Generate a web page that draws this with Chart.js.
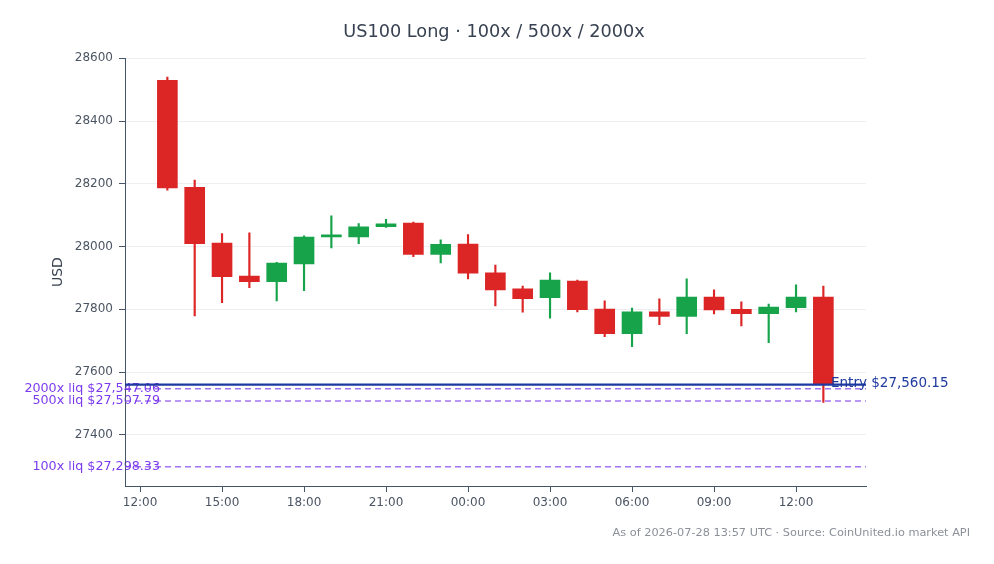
<!DOCTYPE html>
<html><head><meta charset="utf-8">
<script src="https://cdn.jsdelivr.net/npm/chart.js@4.4.1/dist/chart.umd.min.js"></script>
<style>html,body{margin:0;padding:0;background:#fff}#wrap{width:994px;height:564px}</style>
</head><body><div id="wrap"><canvas id="c" width="994" height="564"></canvas></div>
<script>
// hours after 12:00 on day one (candle at 13:00 ... 13:00 next day)
const hours = [1,2,3,4,5,6,7,8,9,10,11,12,13,14,15,16,17,18,19,20,21,22,23,24,25];
const opens  = [28530,28189,28011,27906,27888,27945,28031,28031,28063,28075,27975,28008,27916,27865,27837,27890,27801,27722,27792,27777,27839,27800,27786,27805,27839];
const highs  = [28540,28212,28041,28044,27950,28034,28098,28073,28087,28078,28021,28038,27941,27874,27916,27893,27827,27804,27833,27897,27862,27824,27817,27878,27874];
const lows   = [28180,27779,27821,27869,27827,27859,27996,28009,28061,27968,27948,27897,27811,27791,27772,27792,27713,27681,27751,27722,27785,27747,27694,27792,27503];
const closes = [28187,28009,27904,27888,27947,28030,28034,28063,28072,27975,28007,27915,27862,27834,27893,27799,27722,27792,27777,27839,27798,27786,27807,27839,27560.15];

const levelNames  = ['Entry','2000x liq','500x liq','100x liq'];
const levelPrices = [27560.15, 27547.06, 27507.79, 27298.33];

const xTickValues = [0,3,6,9,12,15,18,21,24];
const xTickLabels = ['12:00','15:00','18:00','21:00','00:00','03:00','06:00','09:00','12:00'];
const yTickValues = [27400,27600,27800,28000,28200,28400,28600];

const titleText  = 'US100 Long \u00b7 100x / 500x / 2000x';
const footerText = 'As of 2026-07-28 13:57 UTC \u00b7 Source: CoinUnited.io market API';

const X_MIN = -0.55, X_MAX = 26.56, Y_MIN = 27237, Y_MAX = 28600;
const UP = '#16a34a', DOWN = '#dc2626';
const ENTRY_COLOR = '#1e3a9f', LIQ_LINE = 'rgba(124,58,237,0.7)', LIQ_TEXT = '#7c3aed';

Chart.defaults.font.family = '"DejaVu Sans", sans-serif';

const candleColors = hours.map((h,i) => closes[i] >= opens[i] ? UP : DOWN);
const fmt = v => '$' + v.toLocaleString('en-US',{minimumFractionDigits:2, maximumFractionDigits:2});

const levelDatasets = levelPrices.map((p,i) => ({
  type: 'line',
  label: levelNames[i],
  data: [{x: X_MIN, y: p}, {x: X_MAX, y: p}],
  borderColor: i === 0 ? ENTRY_COLOR : LIQ_LINE,
  borderWidth: i === 0 ? 2.2 : 1.5,
  borderDash: i === 0 ? [] : [6,4],
  pointRadius: 0,
  fill: false,
  order: -1
}));

const labelPlugin = {
  id: 'levelLabels',
  beforeDraw(chart) {
    const {ctx, chartArea, scales} = chart;
    ctx.save();
    ctx.font = '12.7px "DejaVu Sans"';
    ctx.fillStyle = LIQ_TEXT;
    ctx.textAlign = 'right';
    ctx.textBaseline = 'middle';
    for (let i = 1; i < levelPrices.length; i++) {
      const y = scales.y.getPixelForValue(levelPrices[i]);
      ctx.fillText(levelNames[i] + ' ' + fmt(levelPrices[i]), chartArea.left + 35, y);
    }
    ctx.restore();
  },
  afterDraw(chart) {
    const {ctx, chartArea, scales} = chart;
    ctx.save();
    ctx.font = '13.5px "DejaVu Sans"';
    ctx.fillStyle = ENTRY_COLOR;
    ctx.textAlign = 'left';
    ctx.textBaseline = 'middle';
    ctx.fillText(levelNames[0] + ' ' + fmt(levelPrices[0]), chartArea.right - 35, scales.y.getPixelForValue(levelPrices[0]) - 1);
    ctx.font = '11.3px "DejaVu Sans"';
    ctx.fillStyle = '#8b9098';
    ctx.textAlign = 'right';
    ctx.fillText(footerText, 970, 533);
    ctx.restore();
  }
};

new Chart(document.getElementById('c'), {
  type: 'bar',
  data: {
    datasets: [
      {
        label: 'body',
        data: hours.map((h,i) => ({x: h, y: [opens[i], closes[i]]})),
        backgroundColor: candleColors,
        borderWidth: 0,
        barThickness: 20,
        minBarLength: 2,
        grouped: false,
        order: 1
      },
      {
        label: 'wick',
        data: hours.map((h,i) => ({x: h, y: [lows[i], highs[i]]})),
        backgroundColor: candleColors,
        borderWidth: 0,
        barThickness: 1.5,
        grouped: false,
        order: 2
      },
      ...levelDatasets
    ]
  },
  options: {
    responsive: false,
    animation: false,
    layout: {padding: {top: 0, left: 0, right: 6, bottom: 48}},
    plugins: {
      legend: {display: false},
      tooltip: {enabled: false},
      title: {
        display: true, text: titleText, color: '#374151',
        font: {size: 17.7, weight: 'normal'},
        padding: {top: 22, bottom: 15}
      }
    },
    scales: {
      x: {
        type: 'linear', min: X_MIN, max: X_MAX, offset: false,
        afterBuildTicks: s => { s.ticks = xTickValues.map(v => ({value: v})); },
        afterFit: s => { s.height = 30; },
        ticks: {
          autoSkip: false, maxRotation: 0, padding: 4, color: '#4b5563', font: {size: 12},
          callback: (v, i) => xTickLabels[i]
        },
        grid: {drawOnChartArea: false, offset: false, tickLength: 6, tickColor: '#475569'},
        border: {color: '#475569', width: 1}
      },
      y: {
        type: 'linear', position: 'left', min: Y_MIN, max: Y_MAX,
        afterBuildTicks: s => { s.ticks = yTickValues.map(v => ({value: v})); },
        afterFit: s => { s.width = 125; },
        ticks: {padding: 6, color: '#4b5563', font: {size: 12}, callback: v => String(v)},
        grid: {color: '#eceef1', tickLength: 6, tickColor: '#475569'},
        border: {color: '#475569', width: 1},
        title: {display: true, text: 'USD', color: '#374151', font: {size: 14}, padding: {top: 50, bottom: 4}}
      },
      yRight: {
        type: 'linear', position: 'right', min: Y_MIN, max: Y_MAX,
        afterFit: s => { s.width = 122; },
        ticks: {display: false},
        grid: {display: false, drawTicks: false},
        border: {display: false}
      }
    }
  },
  plugins: [labelPlugin]
});
</script></body></html>
